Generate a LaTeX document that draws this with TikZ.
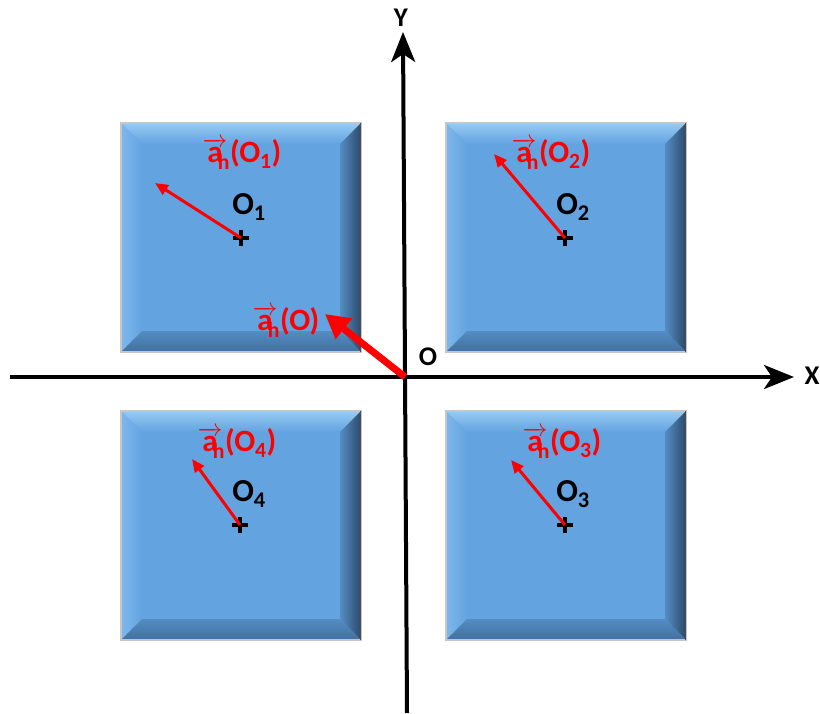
\documentclass[tikz,border=0pt]{standalone}
\usepackage{amsmath}
\usepackage{fontspec}
\setmainfont{Carlito}
\usetikzlibrary{arrows.meta,positioning}

\definecolor{faceblue}{RGB}{99,163,224}
\definecolor{topblue}{RGB}{150,203,243}
\definecolor{leftblue}{RGB}{125,184,236}
\definecolor{rightblue}{RGB}{44,74,106}
\definecolor{bottomblue}{RGB}{84,140,196}
\definecolor{bottomdark}{RGB}{66,112,160}
\definecolor{vecred}{RGB}{255,0,0}

\newcommand{\ahvec}[1]{\rlap{$\overrightarrow{\text{a}}$}\phantom{a}\textsubscript{h}(O#1)}

\begin{document}
\begin{tikzpicture}[
  x=1pt,y=-1pt,
  axis/.style={line width=4pt,-{Stealth[length=30pt,width=24pt,inset=8pt]}},
  accel/.style={vecred,line width=3pt,-{Triangle[length=13pt,width=11pt]}},
  big accel/.style={vecred,line width=7pt,-{Triangle[length=24pt,width=25pt]}},
  center mark/.style={line width=4pt},
  pt label/.style={font=\fontsize{32}{36}\selectfont\bfseries,inner sep=0pt},
  acc label/.style={font=\fontsize{31}{36}\selectfont\bfseries,text=vecred,inner sep=0pt},
  axis label/.style={font=\fontsize{27}{30}\selectfont\bfseries,inner sep=0pt}
]
\useasboundingbox (0,0) rectangle (820,713);

% bevelled squares
\foreach \bx/\by in {121/123,446/123,446/411,121/411}{
  \begin{scope}[shift={(\bx,\by)}]
    \fill[faceblue] (0,0) rectangle (240,229);
    \shade[top color=topblue,bottom color=faceblue] (0,0) -- (240,0) -- (219,21) -- (21,21) -- cycle;
    \shade[left color=leftblue,right color=faceblue] (0,0) -- (21,21) -- (21,208) -- (0,229) -- cycle;
    \shade[left color=faceblue!75!rightblue,right color=rightblue] (240,0) -- (240,229) -- (219,208) -- (219,21) -- cycle;
    \shade[top color=bottomblue,bottom color=bottomdark] (0,229) -- (21,208) -- (219,208) -- (240,229) -- cycle;
    \draw[gray!45,line width=1.5pt] (0,0) rectangle (240,229);
    \draw[black!70,line width=1pt] (239.5,0) -- (239.5,229);
  \end{scope}
}

% axes
\coordinate (xl) at (10,377);
\coordinate (xr) at (794,377);
\coordinate (yb) at (407,713);
\coordinate (yt) at (403,32);
\coordinate (O) at (405,377);
\draw[axis] (xl) -- (xr);
\draw[axis] (yb) -- (yt);
\node[axis label] (xlab) at (812,376) {X};
\node[axis label] (ylab) at (401,18) {Y};
\node[axis label] (olab) at (428,357) {O};

% acceleration at O
\coordinate (tO) at (325,314);
\draw[big accel] (O) -- (tO);
\node[acc label] (aO) at (286,322) {\ahvec{}};

% centres of the squares
\coordinate (c1) at (241,238);
\coordinate (c2) at (565,238);
\coordinate (c3) at (565,525);
\coordinate (c4) at (240,525);
\foreach \c in {c1,c2,c3,c4}
  \draw[center mark] (\c) ++(-8,0) -- ++(16,0) (\c) ++(0,-8) -- ++(0,16);

\node[pt label] (o1) at (249,207) {O\textsubscript{1}};
\node[pt label] (o2) at (573,207) {O\textsubscript{2}};
\node[pt label] (o3) at (573,494) {O\textsubscript{3}};
\node[pt label] (o4) at (249,494) {O\textsubscript{4}};

\coordinate (t1) at (155,183);
\coordinate (t2) at (494,154);
\coordinate (t3) at (511,460);
\coordinate (t4) at (192,459);
\draw[accel] (c1) -- (t1);
\draw[accel] (c2) -- (t2);
\draw[accel] (c3) -- (t3);
\draw[accel] (c4) -- (t4);

\node[acc label] (a1) at (242,154) {\ahvec{\textsubscript{1}}};
\node[acc label] (a2) at (551,154) {\ahvec{\textsubscript{2}}};
\node[acc label] (a3) at (562,443) {\ahvec{\textsubscript{3}}};
\node[acc label] (a4) at (237,443) {\ahvec{\textsubscript{4}}};
\end{tikzpicture}
\end{document}
